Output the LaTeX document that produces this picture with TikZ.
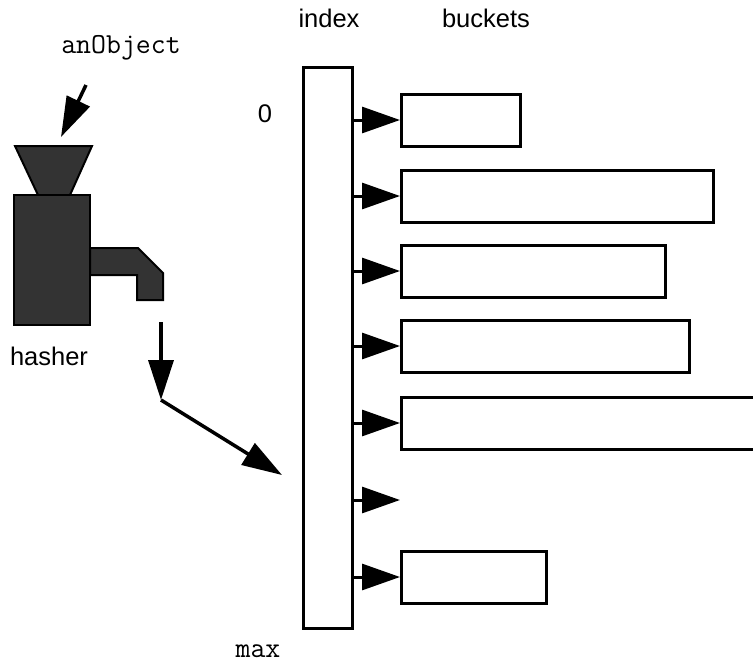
\documentclass[tikz,border=0pt]{standalone}
\usepackage{fontspec}
\setmainfont{Liberation Sans}
\usetikzlibrary{arrows.meta}

\tikzset{
  box/.style={draw, line width=3pt, inner sep=0pt, minimum height=52pt, anchor=west},
  slot/.style={line width=3pt, -{Triangle[length=38pt,width=26pt]}},
  flow/.style={line width=3.5pt, -{Triangle[length=40pt,width=25pt]}},
  lbl/.style={font=\fontsize{25.5}{26}\selectfont, anchor=base},
  code/.style={font=\ttfamily\fontsize{29}{29}\selectfont, anchor=base},
  metal/.style={draw, line width=2pt, fill=black!80},
}

\begin{document}
\begin{tikzpicture}[x=1pt,y=-1pt]
\useasboundingbox (0,0) rectangle (753,662);

% the index column
\node[draw, line width=3pt, inner sep=0pt, minimum width=49pt, minimum height=561pt] (index) at (327.5,347.5) {};

% buckets hang off the right side of the index
\node[box, minimum width=119pt] (b1) at (400,120) {};
\node[box, minimum width=312pt] (b2) at (400,196) {};
\node[box, minimum width=264pt] (b3) at (400,271) {};
\node[box, minimum width=288pt] (b4) at (400,346) {};
\node[box, minimum width=372pt] (b5) at (400,423) {};
\node[inner sep=0pt, anchor=west] (b6) at (400,500) {};
\node[box, minimum width=145pt] (b7) at (400,577) {};

\foreach \b in {b1,b2,b3,b4,b5,b6,b7}
  \draw[slot] (index.east |- \b.west) -- (\b.west);

% the hasher: hopper, body and spout
\draw[metal] (15,146) -- (92,146) -- (70,195) -- (38,195) -- cycle;
\draw[metal] (14,195) rectangle (90,325);
\draw[metal] (90,248) -- (138,248) -- (163,273) -- (163,300) -- (137,300) -- (137,275) -- (90,275) -- cycle;

\coordinate (drop) at (86,85);
\coordinate (hopper) at (61,137);
\coordinate (spout) at (161,322);
\coordinate (bend) at (161,400);
\coordinate (entry) at (282,475);

\draw[flow] (drop) -- (hopper);
\draw[flow] (spout) -- (bend);
\draw[flow] (bend) -- (entry);

% labels
\node[lbl] (indextext) at (329,27) {index};
\node[lbl] (bucketstext) at (486,27) {buckets};
\node[lbl] (zero) at (265,122) {0};
\node[lbl] (hasher) at (49,365) {hasher};
\node[code] (obj) at (121,53) {anObject};
\node[code] (max) at (258,657) {max};
\end{tikzpicture}
\end{document}
